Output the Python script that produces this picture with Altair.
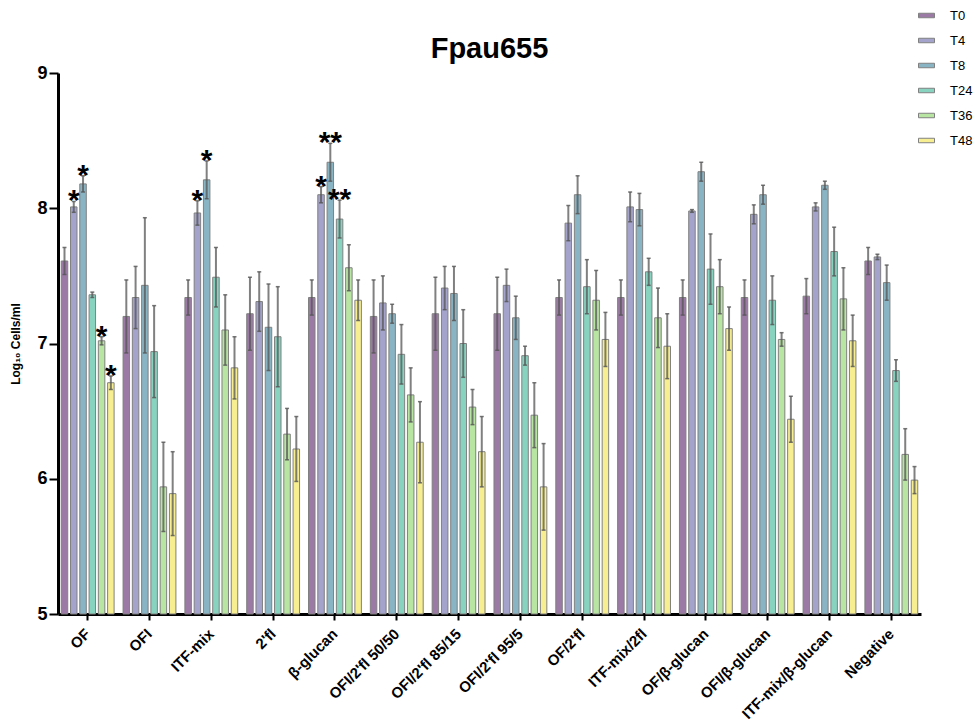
import altair as alt
import pandas as pd

groups = ["OF", "OFI", "ITF-mix", "2'fl", "β-glucan", "OFI/2'fl 50/50", "OFI/2'fl 85/15",
          "OFI/2'fl 95/5", "OF/2'fl", "ITF-mix/2fl", "OF/β-glucan", "OFI/β-glucan",
          "ITF-mix/β-glucan", "Negative"]
times = ["T0", "T4", "T8", "T24", "T36", "T48"]
colors = ["#9c7aa6", "#a3a3cc", "#89b4c4", "#88d3c0", "#b9e5a3", "#f6ee90"]

T0 = [7.61, 7.20, 7.34, 7.22, 7.34, 7.20, 7.22, 7.22, 7.34, 7.34, 7.34, 7.34, 7.35, 7.61]
T4 = [8.01, 7.34, 7.965, 7.31, 8.10, 7.30, 7.41, 7.43, 7.89, 8.01, 7.98, 7.955, 8.01, 7.64]
T8 = [8.18, 7.43, 8.21, 7.12, 8.34, 7.22, 7.37, 7.19, 8.10, 7.99, 8.27, 8.10, 8.17, 7.45]
T24 = [7.36, 6.94, 7.49, 7.05, 7.92, 6.92, 7.00, 6.91, 7.42, 7.53, 7.55, 7.32, 7.68, 6.80]
T36 = [7.02, 5.94, 7.10, 6.33, 7.56, 6.62, 6.53, 6.47, 7.32, 7.19, 7.42, 7.03, 7.33, 6.18]
T48 = [6.71, 5.89, 6.82, 6.22, 7.32, 6.27, 6.20, 5.94, 7.03, 6.98, 7.11, 6.44, 7.02, 5.99]

E0 = [0.10, 0.27, 0.13, 0.27, 0.13, 0.27, 0.27, 0.27, 0.13, 0.13, 0.13, 0.13, 0.13, 0.10]
E4 = [0.04, 0.23, 0.09, 0.22, 0.06, 0.20, 0.16, 0.12, 0.13, 0.11, 0.01, 0.07, 0.03, 0.02]
E8 = [0.06, 0.50, 0.14, 0.32, 0.14, 0.07, 0.20, 0.16, 0.14, 0.12, 0.07, 0.07, 0.03, 0.13]
E24 = [0.02, 0.34, 0.22, 0.37, 0.14, 0.22, 0.25, 0.07, 0.20, 0.10, 0.26, 0.18, 0.18, 0.08]
E36 = [0.03, 0.33, 0.26, 0.19, 0.17, 0.20, 0.13, 0.24, 0.22, 0.22, 0.20, 0.05, 0.23, 0.19]
E48 = [0.05, 0.31, 0.23, 0.24, 0.15, 0.30, 0.26, 0.32, 0.20, 0.24, 0.16, 0.17, 0.19, 0.10]

sig_group = ["OF", "OF", "OF", "OF", "ITF-mix", "ITF-mix", "β-glucan", "β-glucan", "β-glucan"]
sig_time = ["T4", "T8", "T36", "T48", "T4", "T8", "T4", "T8", "T24"]
sig_text = ["*", "*", "*", "*", "*", "*", "*", "**", "**"]

rows = []
for t, vals, errs in zip(times, [T0, T4, T8, T24, T36, T48], [E0, E4, E8, E24, E36, E48]):
    for g, v, e in zip(groups, vals, errs):
        rows.append({"group": g, "time": t, "value": v, "lo": v - e, "hi": v + e})
df = pd.DataFrame(rows)
sig_map = {(g, t): s for g, t, s in zip(sig_group, sig_time, sig_text)}
df["sig"] = [sig_map.get((g, t), "") for g, t in zip(df["group"], df["time"])]

FONT = "Liberation Sans"

x = alt.X("group:N", sort=groups,
          scale=alt.Scale(paddingInner=0.1, paddingOuter=0.03),
          axis=alt.Axis(title=None, labelAngle=-45, labelAlign="right", labelBaseline="middle",
                        labelFontSize=15, labelFontWeight="bold", labelPadding=11,
                        tickSize=6, labelFont=FONT))
xo = alt.XOffset("time:N", sort=times, scale=alt.Scale(paddingInner=0.3, paddingOuter=0.15))
yscale = alt.Scale(domain=[5, 9], zero=False, nice=False)

bars = alt.Chart(df).mark_bar(stroke="#808080", strokeWidth=1).encode(
    x=x, xOffset=xo,
    y=alt.Y("value:Q", scale=yscale,
            axis=alt.Axis(values=[5, 6, 7, 8, 9], format="d", title="Log₁₀ Cells/ml",
                          titleFontSize=12, titleFontWeight="bold", titleFont=FONT,
                          titlePadding=14, labelFontSize=18, labelFontWeight="bold",
                          labelFont=FONT, tickSize=9, labelPadding=2, grid=False)),
    y2=alt.datum(5),
    color=alt.Color("time:N", sort=times, scale=alt.Scale(domain=times, range=colors),
                    legend=alt.Legend(title=None, orient="none", legendX=860, legendY=-66,
                                      symbolType="M-1,-0.28H1V0.28H-1Z", symbolSize=256,
                                      symbolStrokeColor="#808080", symbolStrokeWidth=1,
                                      symbolOpacity=1, labelFontSize=13, labelFont=FONT,
                                      labelOffset=15, rowPadding=9)),
)

rules = alt.Chart(df).mark_rule(color="#555555", strokeWidth=2, opacity=0.75).encode(
    x=x, xOffset=xo, y=alt.Y("lo:Q", scale=yscale), y2="hi:Q")

caps_hi = alt.Chart(df).mark_tick(color="#555555", thickness=1.5, size=4, opacity=0.8).encode(
    x=x, xOffset=xo, y=alt.Y("hi:Q", scale=yscale))
caps_lo = alt.Chart(df).mark_tick(color="#555555", thickness=1.5, size=4, opacity=0.8).encode(
    x=x, xOffset=xo, y=alt.Y("lo:Q", scale=yscale))

stars = alt.Chart(df).transform_filter("datum.sig != ''").mark_text(
    fontSize=30, fontWeight="bold", font=FONT, baseline="alphabetic", dy=9, color="black"
).encode(x=x, xOffset=xo, y=alt.Y("hi:Q", scale=yscale), text="sig:N")

chart = alt.layer(bars, rules, caps_hi, caps_lo, stars).properties(
    width=863, height=541,
    title=alt.Title("Fpau655", fontSize=29, fontWeight="bold", font=FONT, anchor="middle",
                    frame="group", offset=-2, dy=55),
    autosize=alt.AutoSizeParams(type="none"),
    padding={"left": 58, "top": 73, "right": 55, "bottom": 109},
).configure_view(stroke=None).configure_axis(
    domainColor="black", domainWidth=3, tickColor="black", tickWidth=2, labelColor="black",
    titleColor="black"
)

chart.save("out.html", embed_options={"renderer": "svg", "actions": False})
